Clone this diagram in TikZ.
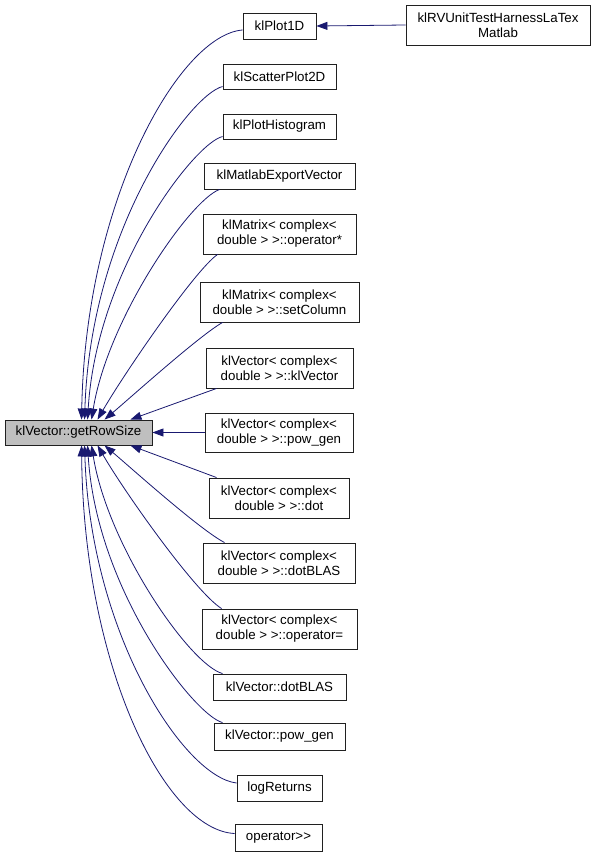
\documentclass[tikz,border=0pt]{standalone}
\usepackage{fontspec}
\setmainfont{Liberation Sans}
\usepackage{tikz}
\usepackage{xcolor}
\usetikzlibrary{arrows.meta,positioning}
\definecolor{callblue}{HTML}{191970}
\definecolor{focusgray}{HTML}{BFBFBF}
\definecolor{boxedge}{HTML}{202020}
\tikzset{
  fnbox/.style={draw=boxedge, fill=white, line width=0.9pt, align=center,
                inner sep=1pt, minimum height=26pt, font=\fontsize{13.3}{15}\selectfont},
  fnboxtwo/.style={fnbox, minimum height=40pt},
  call/.style={-{Triangle[length=11pt,width=8pt]}, line width=0.8pt, draw=callblue}
}
\begin{document}
\begin{tikzpicture}[x=1pt,y=-1pt]
        \useasboundingbox (0,0) rectangle (595,858);

        % the function whose callers are shown
        \node[fnbox,fill=focusgray,minimum width=147pt,minimum height=25pt] (row) at (78.5,432.5) {klVector::getRowSize};

        % callers
        \node[fnbox,minimum width=73pt] (plot1d) at (279.5,26) {klPlot1D};
        \node[fnboxtwo,minimum width=184pt] (harness) at (498,25) {klRVUnitTestHarnessLaTex\\Matlab};
        \node[fnbox,minimum width=113pt,minimum height=25pt] (scatter) at (279.5,76.5) {klScatterPlot2D};
        \node[fnbox,minimum width=113pt,minimum height=25pt] (hist) at (279.5,126.5) {klPlotHistogram};
        \node[fnbox,minimum width=151pt] (matlab) at (279.5,176) {klMatlabExportVector};
        \node[fnboxtwo,minimum width=153pt] (opmul) at (279.5,234) {klMatrix< complex<\\double > >::operator*};
        \node[fnboxtwo,minimum width=159pt] (setcol) at (279.5,302) {klMatrix< complex<\\double > >::setColumn};
        \node[fnboxtwo,minimum width=147pt] (vecctor) at (279.5,368) {klVector< complex<\\double > >::klVector};
        \node[fnboxtwo,minimum width=148pt,minimum height=39pt] (vpow) at (279,432.5) {klVector< complex<\\double > >::pow\_gen};
        \node[fnboxtwo,minimum width=140pt] (vdot) at (279,498) {klVector< complex<\\double > >::dot};
        \node[fnboxtwo,minimum width=152pt] (vdotblas) at (279,563) {klVector< complex<\\double > >::dotBLAS};
        \node[fnboxtwo,minimum width=155pt] (vassign) at (279.5,629) {klVector< complex<\\double > >::operator=};
        \node[fnbox,minimum width=133pt] (dotblas) at (279.5,687) {klVector::dotBLAS};
        \node[fnbox,minimum width=131pt,minimum height=27pt] (powgen) at (279.5,736.5) {klVector::pow\_gen};
        \node[fnbox,minimum width=85pt] (logret) at (279.5,788) {logReturns};
        \node[fnbox,minimum width=87pt,minimum height=27pt] (opshift) at (278.5,837.5) {operator>{}>};

        % second level caller
        \draw[call] (harness.west) -- (plot1d.east);

        % calls arriving from above
        \draw[call] ([yshift=-4pt]plot1d.west) .. controls +(-63,5) and +(4,-220) .. ([xshift=77pt]row.north west);
        \draw[call] ([yshift=-10pt]scatter.west) .. controls +(-33,8.5) and +(6,-190) .. ([xshift=80pt]row.north west);
        \draw[call] ([yshift=-10pt]hist.west) .. controls +(-28,6.5) and +(9,-150) .. ([xshift=83pt]row.north west);
        \draw[call] ([xshift=16pt]matlab.south west) .. controls +(-30,11) and +(16,-100) .. ([xshift=87pt]row.north west);
        \draw[call] ([xshift=15pt]opmul.south west) .. controls +(-23,16) and +(26,-45) .. ([xshift=93pt]row.north west);
        \draw[call] ([xshift=23pt]setcol.south west) .. controls +(-23,13) and +(26,-22) .. ([xshift=100pt]row.north west);
        \draw[call] ([xshift=11pt]vecctor.south west) -- ([xshift=-22pt]row.north east);

        % straight across
        \draw[call] (vpow.west) -- (row.east);

        % calls arriving from below
        \draw[call] ([xshift=8pt]vdot.north west) -- ([xshift=-22pt]row.south east);
        \draw[call] ([xshift=22pt]vdotblas.north west) .. controls +(-25,-13) and +(26,22) .. ([xshift=100pt]row.south west);
        \draw[call] ([xshift=20pt]vassign.north west) .. controls +(-27,-17) and +(26,45) .. ([xshift=93pt]row.south west);
        \draw[call] ([xshift=10pt]dotblas.north west) .. controls +(-33,-9) and +(16,100) .. ([xshift=87pt]row.south west);
        \draw[call] ([xshift=9pt]powgen.north west) .. controls +(-28,-7) and +(9,145) .. ([xshift=83pt]row.south west);
        \draw[call] ([yshift=5pt]logret.west) .. controls +(-52,-6) and +(6,190) .. ([xshift=80pt]row.south west);
        \draw[call] ([yshift=4pt]opshift.west) .. controls +(-70,-3.5) and +(2,220) .. ([xshift=77pt]row.south west);
      \end{tikzpicture}
\end{document}
